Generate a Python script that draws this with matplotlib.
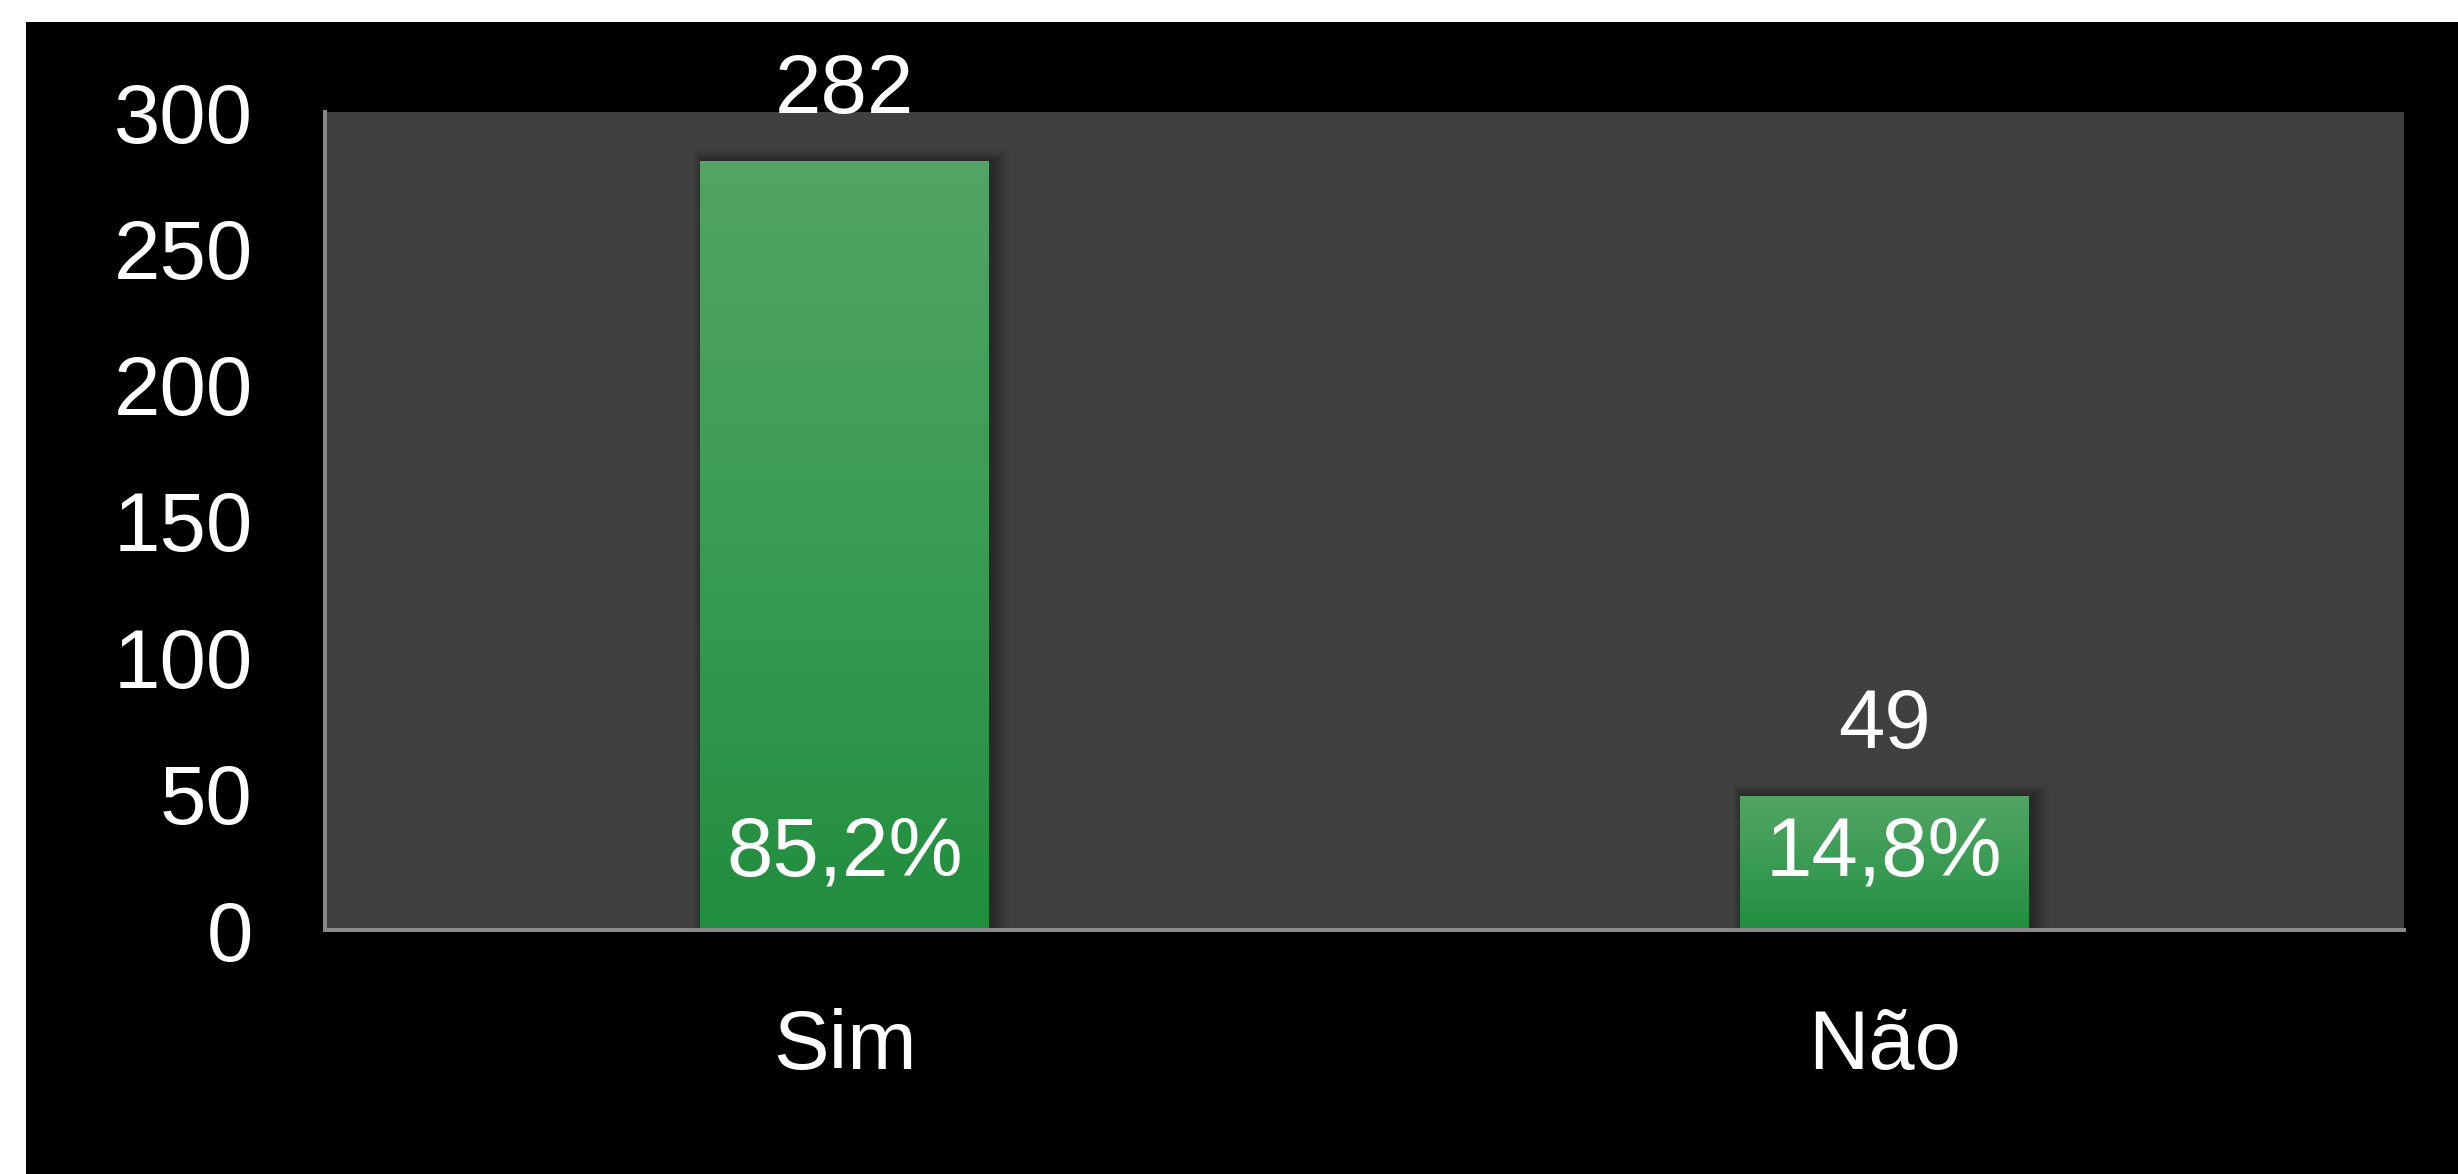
import matplotlib.pyplot as plt
import numpy as np
from matplotlib.colors import LinearSegmentedColormap
from matplotlib.patches import Rectangle

# data
categories = ['Sim', 'Não']
counts = [282, 49]
percents = ['85,2%', '14,8%']
yticks = [0, 50, 100, 150, 200, 250, 300]

plt.rcParams['font.family'] = ['Liberation Sans', 'DejaVu Sans']

W, H = 2458, 1174
fig = plt.figure(figsize=(W / 100, H / 100), dpi=100, facecolor='white')
# black background with thin white strip at top/left
fig.patches.append(Rectangle((26 / W, 0), 1, 1 - 22 / H, transform=fig.transFigure,
                             facecolor='black', edgecolor='none', zorder=-10))

ax = fig.add_axes([325 / W, 244 / H, (2404 - 325) / W, (930 - 112) / H])
ax.set_facecolor('#404040')

x = np.arange(len(categories))
bw = 0.278
bars = ax.bar(x, counts, width=bw, color='none', edgecolor='none', zorder=3)

# soft shadow behind the bars (px -> data units)
px_x = 2.0 / (2404 - 325)
px_y = 300.0 / (930 - 112)
for b in bars:
    for k in range(1, 13):
        sh = Rectangle((b.get_x() - k * 0.8 * px_x + 3 * px_x, 0),
                       b.get_width() + k * 2.2 * px_x, b.get_height() + k * 0.9 * px_y,
                       facecolor='black', edgecolor='none', alpha=0.025, zorder=2)
        ax.add_patch(sh)

# vertical gradient fill
cmap = LinearSegmentedColormap.from_list('g', ['#218d3e', '#3a9c54', '#53a465'])
grad = np.linspace(0, 1, 256).reshape(-1, 1)
for b in bars:
    x0, w, h = b.get_x(), b.get_width(), b.get_height()
    im = ax.imshow(grad, cmap=cmap, aspect='auto', origin='lower',
                   extent=[x0, x0 + w, 0, h], zorder=4)
    im.set_clip_path(b)

for xi, c, p in zip(x, counts, percents):
    ax.annotate(str(c), (xi, c), xytext=(0, 48), textcoords='offset pixels',
                ha='center', va='baseline', color='white', fontsize=60, zorder=6)
    ax.annotate(p, (xi, 0), xytext=(0, 54), textcoords='offset pixels',
                ha='center', va='baseline', color='white', fontsize=60, zorder=6)

ax.set_xlim(-0.5, 1.5)
ax.set_ylim(0, 300)
ax.set_yticks(yticks)
ax.set_xticks(x)
ax.set_xticklabels(categories)
ax.tick_params(axis='y', length=0, pad=52, labelsize=60, labelcolor='white')
ax.tick_params(axis='x', length=0, pad=56, labelsize=60, labelcolor='white')

for s in ['top', 'right']:
    ax.spines[s].set_visible(False)
for s in ['left', 'bottom']:
    ax.spines[s].set_color('#898989')
    ax.spines[s].set_linewidth(2.9)
    ax.spines[s].set_zorder(7)

fig.savefig('out.png', dpi=100, facecolor=fig.get_facecolor())
